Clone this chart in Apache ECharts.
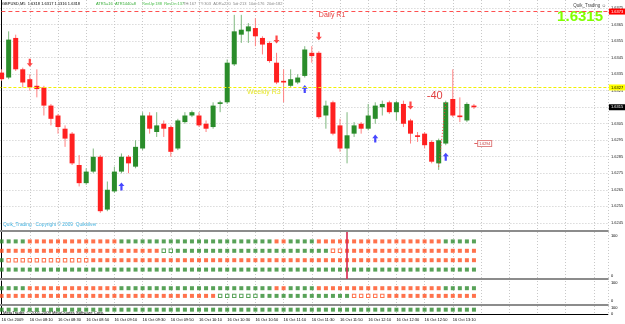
<!DOCTYPE html>
<html>
<head>
<meta charset="utf-8">
<title>GBPUSD,M5</title>
<script src="https://cdn.jsdelivr.net/npm/echarts@6/dist/echarts.min.js"></script>
<style>
html, body { margin: 0; padding: 0; background: #fff; }
#main { width: 625px; height: 324px; }
</style>
</head>
<body>
<div id="main"></div>
<script>
// GBPUSD M5 bars, 16 Oct 2009 07:50 .. 13:25 (68 bars)
const openP = [1.6336, 1.6333, 1.6357, 1.6338, 1.6332, 1.6328, 1.6327, 1.6316, 1.6310, 1.6302,
	1.6299, 1.6280, 1.6269, 1.6276, 1.6285, 1.6253, 1.6264, 1.6276, 1.6285, 1.6279,
	1.6290, 1.6310, 1.6300, 1.6305, 1.6303, 1.6290, 1.6306, 1.6310, 1.6310, 1.6305,
	1.6303, 1.6317, 1.6318, 1.6341, 1.6359, 1.6361, 1.6363, 1.6357, 1.6354, 1.6342,
	1.6331, 1.6328, 1.6330, 1.6334, 1.6348, 1.6348, 1.6310, 1.6318, 1.6304, 1.6290,
	1.6299, 1.6305, 1.6302, 1.6308, 1.6315, 1.6318, 1.6312, 1.6317, 1.6307, 1.6298,
	1.6299, 1.6294, 1.6281, 1.6293, 1.6320, 1.6310, 1.6307, 1.6316]
const highP = [1.6338, 1.6361, 1.6359, 1.6339, 1.6335, 1.6338, 1.6328, 1.6317, 1.6311, 1.6304,
	1.6300, 1.6286, 1.6278, 1.6290, 1.6286, 1.6270, 1.6279, 1.6287, 1.6286, 1.6295,
	1.6312, 1.6312, 1.6312, 1.6307, 1.6304, 1.6308, 1.6312, 1.6313, 1.6312, 1.6307,
	1.6318, 1.6319, 1.6344, 1.6371, 1.6371, 1.6366, 1.6369, 1.6358, 1.6355, 1.6348,
	1.6338, 1.6338, 1.6335, 1.6352, 1.6352, 1.6349, 1.6319, 1.6319, 1.6308, 1.6312,
	1.6306, 1.6306, 1.6317, 1.6318, 1.6319, 1.6319, 1.6319, 1.6319, 1.6308, 1.6300,
	1.6300, 1.6295, 1.6296, 1.6319, 1.6338, 1.6321, 1.6318, 1.6317]
const lowP = [1.6331, 1.6332, 1.6337, 1.6327, 1.6325, 1.6321, 1.6310, 1.6304, 1.6299, 1.6291,
	1.6280, 1.6267, 1.6268, 1.6275, 1.6251, 1.6252, 1.6263, 1.6275, 1.6275, 1.6278,
	1.6289, 1.6299, 1.6297, 1.6297, 1.6285, 1.6289, 1.6305, 1.6309, 1.6303, 1.6300,
	1.6302, 1.6312, 1.6317, 1.6340, 1.6354, 1.6354, 1.6352, 1.6347, 1.6342, 1.6329,
	1.6318, 1.6327, 1.6329, 1.6333, 1.6342, 1.6308, 1.6302, 1.6298, 1.6288, 1.6281,
	1.6297, 1.6299, 1.6301, 1.6305, 1.6310, 1.6311, 1.6307, 1.6303, 1.6293, 1.6294,
	1.6290, 1.6281, 1.6277, 1.6292, 1.6309, 1.6306, 1.6306, 1.6314]
const closeP = [1.6332, 1.6356, 1.6338, 1.6330, 1.6327, 1.6326, 1.6316, 1.6308, 1.6303, 1.6296,
	1.6281, 1.6269, 1.6276, 1.6285, 1.6252, 1.6265, 1.6276, 1.6285, 1.6281, 1.6291,
	1.6310, 1.6302, 1.6304, 1.6302, 1.6288, 1.6307, 1.6310, 1.6312, 1.6304, 1.6302,
	1.6316, 1.6318, 1.6342, 1.6361, 1.6362, 1.6364, 1.6358, 1.6353, 1.6343, 1.6330,
	1.6330, 1.6332, 1.6333, 1.6350, 1.6346, 1.6309, 1.6316, 1.6299, 1.6290, 1.6298,
	1.6304, 1.6302, 1.6310, 1.6316, 1.6317, 1.6312, 1.6318, 1.6305, 1.6299, 1.6297,
	1.6292, 1.6282, 1.6295, 1.6318, 1.6310, 1.6309, 1.6317, 1.6315]

// signal arrows (bar index, price)
const sellBars = [4, 39, 45, 58]
const sellPrice = [1.6342, 1.6356, 1.6358, 1.6316]
const buyBars = [17, 43, 53, 63]
const buyPrice = [1.6267, 1.6326, 1.6296, 1.6285]

// pivot lines
const dailyR1 = 1.6373
const weeklyR3 = 1.6327

// time axis labels, one every 4 bars
const timeLabels = ['16 Oct 2009', '16 Oct 08:10', '16 Oct 08:30', '16 Oct 08:50', '16 Oct 09:10',
	'16 Oct 09:30', '16 Oct 09:50', '16 Oct 10:10', '16 Oct 10:30', '16 Oct 10:50', '16 Oct 11:10',
	'16 Oct 11:30', '16 Oct 11:50', '16 Oct 12:10', '16 Oct 12:30', '16 Oct 12:50', '16 Oct 13:10']

// indicator dots, run-length per row: G/R solid, g/r hollow
const p1Row1 = [['G', 4], ['R', 13], ['G', 22], ['R', 2], ['G', 4], ['R', 18], ['G', 5]]
const p1Row2 = [['R', 23], ['g', 2], ['G', 22], ['r', 2], ['R', 19]]
const p1Row3 = [['G', 1], ['r', 12], ['R', 55]]
const p1Row4 = [['G', 68]]
const p2Row1 = [['G', 4], ['R', 13], ['G', 22], ['R', 2], ['G', 4], ['R', 18], ['G', 5]]
const p2Row2 = [['R', 31], ['g', 6], ['G', 13], ['r', 5], ['R', 13]]
const p3Row1 = [['G', 68]]
const p1Levels = [80, 60, 40, 20]
const p2Levels = [70, 38]
const p3Levels = [54]

const colUp = '#2a8c2a'
const colDown = '#ff2020'
const wickUp = '#7fb87f'
const wickDown = '#ff8080'
const dotGreen = '#2e8b2e'
const dotRed = '#ff4f1f'
const FONT = '"Liberation Sans", Arial, sans-serif'

// bar pitch 7.05px, first bar centre at x=1.6
const gridLeft = 1.6 - 4 * 7.05
const gridWidth = 90 * 7.05

const myChart = echarts.init(document.getElementById('main'))

function expandRow(runs) {
	let out = []
	runs.forEach(function (r) {
		for (let k = 0; k < r[1]; k++) out.push(r[0])
	})
	return out
}

//蜡烛
function renderCandle(params, api) {
	const x = api.value(0)
	const o = api.value(1), h = api.value(2), l = api.value(3), c = api.value(4)
	const pH = api.coord([x, h])
	const pL = api.coord([x, l])
	const pO = api.coord([x, o])
	const pC = api.coord([x, c])
	const up = c > o
	const w = 5
	return {
		type: 'group',
		children: [{
			type: 'line',
			shape: { x1: pH[0], y1: pH[1], x2: pL[0], y2: pL[1] },
			style: { stroke: up ? wickUp : wickDown, lineWidth: 1 }
		}, {
			type: 'rect',
			shape: { x: pO[0] - w / 2, y: Math.min(pO[1], pC[1]), width: w, height: Math.max(Math.abs(pO[1] - pC[1]), 1.2) },
			style: { fill: up ? colUp : colDown }
		}]
	}
}

const dotStyle = {
	G: { color: dotGreen },
	R: { color: dotRed },
	g: { color: '#fff', borderColor: dotGreen, borderWidth: 1 },
	r: { color: '#fff', borderColor: dotRed, borderWidth: 1 }
}

function dotSeries(rows, levels, idx) {
	let list = []
	for (const code in dotStyle) {
		let pts = []
		rows.forEach(function (runs, r) {
			const row = expandRow(runs)
			for (let i = 0; i < row.length; i++) {
				if (row[i] === code) pts.push([i, levels[r]])
			}
		})
		list.push({
			type: 'scatter',
			xAxisIndex: idx,
			yAxisIndex: idx,
			symbol: 'rect',
			symbolSize: (code === 'G' || code === 'R') ? 4 : 3.4,
			itemStyle: dotStyle[code],
			silent: true,
			data: pts
		})
	}
	return list
}

function makeGrid(top, height) {
	return { left: gridLeft, top: top, width: gridWidth, height: height, outerBoundsMode: 'none', containLabel: false }
}

function makeX(idx, lineColor, lineWidth, showLabel) {
	return {
		type: 'value',
		gridIndex: idx,
		min: -4,
		max: 86,
		interval: 4,
		axisLine: { show: true, onZero: false, lineStyle: { color: lineColor, width: lineWidth } },
		axisTick: { show: false },
		splitLine: { show: true, lineStyle: { color: '#c8c8c8', type: [1, 2], width: 1 } },
		axisLabel: {
			show: showLabel,
			align: 'left',
			margin: 4,
			fontSize: 4,
			color: '#000',
			fontFamily: FONT,
			formatter: function (v) {
				const k = Math.round(v)
				if (k >= 0 && k % 4 === 0 && k / 4 < timeLabels.length) return timeLabels[k / 4]
				return ''
			}
		}
	}
}

function makePanelY(idx, padTop, padBottom) {
	return {
		type: 'value',
		gridIndex: idx,
		position: 'right',
		min: 0,
		max: 100,
		interval: 100,
		axisLine: { show: true, lineStyle: { color: '#000', width: 1 } },
		axisTick: { show: false },
		splitLine: { show: false },
		axisLabel: {
			margin: 3,
			fontSize: 4,
			color: '#000',
			fontFamily: FONT,
			formatter: function (v) { return v === 100 ? '{t|100}' : '{b|0}' },
			rich: {
				t: { fontSize: 4, padding: [padTop, 0, 0, 0] },
				b: { fontSize: 4, padding: [0, 0, padBottom, 0] }
			}
		}
	}
}

const candleData = openP.map(function (o, i) { return [i, o, highP[i], lowP[i], closeP[i]] })
const upArrow = 'path://M3,0 L6,4 L4.1,4 L4.1,9 L1.9,9 L1.9,4 L0,4 Z'

function boxLabel(text, bg, fg) {
	return { show: true, position: 'end', distance: 1, formatter: text, backgroundColor: bg, color: fg, fontSize: 4, fontFamily: FONT, padding: [1, 2] }
}

let option = {
	animation: false,
	backgroundColor: '#fff',
	textStyle: { fontFamily: FONT },
	grid: [makeGrid(0, 231), makeGrid(232, 47), makeGrid(281, 24), makeGrid(306, 8)],
	xAxis: [
		makeX(0, '#8c8c8c', 2, false),
		makeX(1, '#8c8c8c', 2, false),
		makeX(2, '#8c8c8c', 2, false),
		makeX(3, '#000', 1, true)
	],
	yAxis: [{
		type: 'value',
		gridIndex: 0,
		position: 'right',
		min: 1.6240,
		max: 1.6380,
		interval: 0.0005,
		axisLine: { show: true, lineStyle: { color: '#000', width: 1 } },
		axisTick: { show: false },
		splitLine: { show: true, lineStyle: { color: ['rgba(0,0,0,0)', '#c8c8c8'], type: [1, 2], width: 1 } },
		axisLabel: {
			margin: 3,
			fontSize: 4,
			color: '#222',
			fontFamily: FONT,
			formatter: function (v) {
				const k = Math.round(v * 10000)
				return k % 10 === 5 ? v.toFixed(4) : ''
			}
		}
	},
		makePanelY(1, 7, 6),
		makePanelY(2, 4, 8),
		makePanelY(3, 4, 0)
	],
	graphic: [
		{ type: 'text', left: 2, top: 2, style: { text: 'GBPUSD,M5  1.6318 1.6317 1.6316 1.6318', fill: '#000', fontSize: 4, fontFamily: FONT } },
		{ type: 'text', left: 96, top: 2, style: { text: 'ATR5=16  ATR1440=8', fill: '#33aa33', fontSize: 4, fontFamily: FONT } },
		{ type: 'text', left: 142, top: 2, style: { text: 'RevUp:188  RevDn:137', fill: '#44bb44', fontSize: 4, fontFamily: FONT } },
		{ type: 'text', left: 183, top: 2, style: { text: 'TH:167  TY:303  ADR=220  5dr:213  10dr:176  20dr:182', fill: '#888', fontSize: 4, fontFamily: FONT } },
		{ type: 'text', right: 19, top: 3, style: { text: 'Quik_Trading \u263a', fill: '#444', fontSize: 4.5, fontFamily: FONT } },
		{ type: 'text', right: 22, top: 9, style: { text: closeP[67].toFixed(4), fill: '#80ff00', fontSize: 15, fontWeight: 'bold', fontFamily: FONT } },
		{ type: 'text', left: 3, top: 222, style: { text: 'Quik_Trading   Copyright \u00a9 2009  Quiksilver', fill: '#3cb0e0', fontSize: 4.8, fontFamily: FONT } },
		{ type: 'text', left: 3, top: 311, style: { text: 'MetaTrader, \u00a9 2001-2009 MetaQuotes Software Corp.', fill: '#000', fontSize: 4.2, fontFamily: FONT } }
	],
	series: [{
		type: 'custom',
		name: 'GBPUSD',
		xAxisIndex: 0,
		yAxisIndex: 0,
		renderItem: renderCandle,
		encode: { x: 0, y: [1, 2, 3, 4] },
		clip: true,
		silent: true,
		data: candleData
	}, {
		type: 'line',
		xAxisIndex: 0,
		yAxisIndex: 0,
		symbol: 'none',
		silent: true,
		lineStyle: { color: '#ff3030', type: [1, 2], width: 1 },
		data: [[62, 1.6279], [63, 1.6318]]
	}, {
		type: 'scatter',
		name: 'sell',
		xAxisIndex: 0,
		yAxisIndex: 0,
		symbol: upArrow,
		symbolRotate: 180,
		symbolSize: [6, 8],
		itemStyle: { color: '#ff1a1a' },
		silent: true,
		data: sellBars.map(function (b, i) { return [b, sellPrice[i]] }),
		markLine: {
			silent: true,
			symbol: 'none',
			precision: 5,
			data: [
				{ yAxis: dailyR1, lineStyle: { color: '#ff5050', type: [4, 3], width: 1 }, label: boxLabel(dailyR1.toFixed(4), '#ff0000', '#fff') },
				{ yAxis: weeklyR3, lineStyle: { color: '#f2f200', type: [3, 2], width: 1 }, label: boxLabel(weeklyR3.toFixed(4), '#ffff00', '#000') },
				{ yAxis: closeP[67], lineStyle: { color: 'rgba(0,0,0,0)' }, label: boxLabel(closeP[67].toFixed(4), '#000', '#fff') },
				[{ coord: [67.05, 1.6293], lineStyle: { color: '#e06060', type: 'solid', width: 1 }, label: { show: false } }, { coord: [67.6, 1.6293] }]
			]
		},
		markPoint: {
			silent: true,
			symbol: 'rect',
			symbolSize: 0,
			data: [
				{ coord: [45, 1.6371], label: { show: true, position: 'right', distance: 0, formatter: 'Daily R1', color: '#e63c3c', fontSize: 7, fontFamily: FONT } },
				{ coord: [34.8, 1.63245], label: { show: true, position: 'right', distance: 0, formatter: 'Weekly R3', color: '#e6e62a', fontSize: 7, fontFamily: FONT } },
				{ coord: [60.3, 1.6322], label: { show: true, position: 'right', distance: 0, formatter: '-40', color: '#e04040', fontSize: 11, fontFamily: FONT } },
				{ coord: [67.6, 1.6293], label: { show: true, position: 'right', distance: 0, formatter: '1.6294', color: '#c03030', fontSize: 3.6, fontFamily: FONT, backgroundColor: '#fff', borderColor: '#e08080', borderWidth: 1, padding: [0.5, 1] } }
			]
		}
	}, {
		type: 'scatter',
		name: 'buy',
		xAxisIndex: 0,
		yAxisIndex: 0,
		symbol: upArrow,
		symbolSize: [6, 8],
		itemStyle: { color: '#1a1aff' },
		silent: true,
		data: buyBars.map(function (b, i) { return [b, buyPrice[i]] })
	}, {
		// red marker line in first indicator window
		type: 'scatter',
		xAxisIndex: 1,
		yAxisIndex: 1,
		data: [],
		markLine: {
			silent: true,
			symbol: 'none',
			label: { show: false },
			lineStyle: { color: '#d8264e', type: 'solid', width: 1.6 },
			data: [{ xAxis: 49 }]
		}
	}]
}

option.series = option.series
	.concat(dotSeries([p1Row1, p1Row2, p1Row3, p1Row4], p1Levels, 1))
	.concat(dotSeries([p2Row1, p2Row2], p2Levels, 2))
	.concat(dotSeries([p3Row1], p3Levels, 3))

myChart.setOption(option)
</script>
</body>
</html>
